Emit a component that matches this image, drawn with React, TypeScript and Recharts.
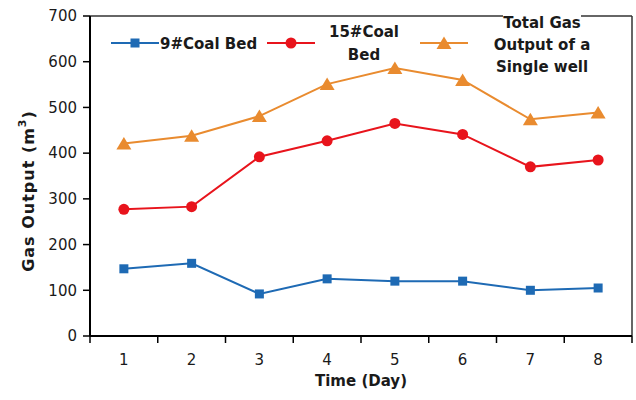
import React from 'react';
import { ComposedChart, Line, XAxis, YAxis, ReferenceLine, Legend } from 'recharts';

const days = [1, 2, 3, 4, 5, 6, 7, 8];
const coalBed9 = [147, 159, 92, 125, 120, 120, 100, 105];
const coalBed15 = [277, 283, 392, 427, 465, 441, 370, 385];
const totalOutput = [421, 438, 481, 551, 586, 560, 474, 489];
const yTicks = [0, 100, 200, 300, 400, 500, 600, 700];
const xTicks = [0.5, 1, 1.5, 2, 2.5, 3, 3.5, 4, 4.5, 5, 5.5, 6, 6.5, 7, 7.5, 8, 8.5];

const data = days.map((d, i) => ({
  day: d,
  c9: coalBed9[i],
  c15: coalBed15[i],
  total: totalOutput[i],
}));

const BLUE = '#1e6ab4';
const RED = '#e8141c';
const ORANGE = '#e98b2f';
const FONT = '"DejaVu Sans", "Liberation Sans", Arial, sans-serif';
const TEXT = '#1a1a1a';

const SquareDot = (props: any) => {
  const { cx, cy } = props;
  if (cx == null || cy == null) return <g />;
  return <rect x={cx - 4.5} y={cy - 4.5} width={9} height={9} fill={BLUE} />;
};
const CircleDot = (props: any) => {
  const { cx, cy } = props;
  if (cx == null || cy == null) return <g />;
  return <circle cx={cx} cy={cy} r={5.5} fill={RED} />;
};
const TriangleDot = (props: any) => {
  const { cx, cy } = props;
  if (cx == null || cy == null) return <g />;
  return <polygon points={`${cx},${cy - 6.5} ${cx + 7.5},${cy + 6} ${cx - 7.5},${cy + 6}`} fill={ORANGE} />;
};

const XTick = (props: any) => {
  const { x, y, payload } = props;
  const v = payload.value;
  if (Number.isInteger(v)) {
    return (
      <text x={x} y={y + 21} textAnchor="middle" fontFamily={FONT} fontSize={15} fill={TEXT}>
        {v}
      </text>
    );
  }
  return <line x1={x} x2={x} y1={y - 8} y2={y - 1} stroke="#000" strokeWidth={1.5} />;
};

const YLabel = (props: any) => {
  const { viewBox } = props;
  const cx = viewBox.x + 28;
  const cy = viewBox.y + viewBox.height / 2 + 15;
  return (
    <text
      x={cx}
      y={cy}
      transform={`rotate(-90, ${cx}, ${cy})`}
      textAnchor="middle"
      dominantBaseline="central"
      fontFamily={FONT}
      fontWeight="bold"
      fontSize={16}
      letterSpacing={1}
      fill={TEXT}
    >
      Gas Output (m<tspan dy={-6} fontSize={11}>3</tspan><tspan dy={6}>)</tspan>
    </text>
  );
};

const LineIcon = ({ color, marker }: { color: string; marker: string }) => (
  <svg width={48} height={20} style={{ display: 'block' }}>
    <line x1={0} x2={48} y1={10} y2={10} stroke={color} strokeWidth={2} />
    {marker === 'square' && <rect x={19.5} y={5.5} width={9} height={9} fill={color} />}
    {marker === 'circle' && <circle cx={24} cy={10} r={5.5} fill={color} />}
    {marker === 'triangle' && <polygon points="24,3.5 31.5,16 16.5,16" fill={color} />}
  </svg>
);

const renderLegend = () => {
  const textStyle: React.CSSProperties = {
    position: 'absolute',
    fontFamily: FONT,
    fontWeight: 'bold',
    fontSize: 15,
    color: TEXT,
    whiteSpace: 'nowrap',
  };
  return (
    <div style={{ position: 'relative', width: 636, height: 90 }}>
      <div style={{ position: 'absolute', left: 111, top: 33 }}>
        <LineIcon color={BLUE} marker="square" />
      </div>
      <div style={{ ...textStyle, left: 160, top: 34, lineHeight: '20px' }}>9#Coal Bed</div>

      <div style={{ position: 'absolute', left: 267, top: 33 }}>
        <LineIcon color={RED} marker="circle" />
      </div>
      <div style={{ ...textStyle, left: 314, width: 100, top: 21, lineHeight: '23px', textAlign: 'center' }}>
        15#Coal
        <br />
        Bed
      </div>

      <div style={{ position: 'absolute', left: 420, top: 33 }}>
        <LineIcon color={ORANGE} marker="triangle" />
      </div>
      <div style={{ ...textStyle, left: 482, width: 120, top: 12, lineHeight: '22px', textAlign: 'center' }}>
        <span style={{ background: '#fff' }}>Total Gas</span>
        <br />
        Output of a
        <br />
        Single well
      </div>
    </div>
  );
};

export default function App() {
  return (
    <div style={{ position: 'absolute', left: 0, top: 0, width: 636, height: 400, background: '#fff' }}>
      <ComposedChart
        width={636}
        height={400}
        data={data}
        margin={{ top: 16, right: 4, bottom: 0, left: 0 }}
      >
        <XAxis
          dataKey="day"
          type="number"
          domain={[0.5, 8.5]}
          ticks={xTicks}
          interval={0}
          tickLine={false}
          tickSize={6}
          tickMargin={2}
          tick={<XTick />}
          height={64}
          axisLine={{ stroke: '#000', strokeWidth: 2 }}
          label={{
            value: 'Time (Day)',
            position: 'insideBottom',
            offset: 14,
            style: { fontFamily: FONT, fontWeight: 'bold', fontSize: 15, fill: TEXT },
          }}
        />
        <YAxis
          type="number"
          domain={[0, 700]}
          ticks={yTicks}
          interval={0}
          width={90}
          tickSize={7}
          tickMargin={6}
          tickLine={{ stroke: '#000', strokeWidth: 1.5 }}
          axisLine={{ stroke: '#000', strokeWidth: 2 }}
          tick={{ fontFamily: FONT, fontSize: 15, fill: TEXT }}
          label={<YLabel />}
        />
        <ReferenceLine y={700} stroke="#333" strokeWidth={1.5} />
        <ReferenceLine x={8.5} stroke="#333" strokeWidth={1.5} />
        <Legend
          layout="vertical"
          align="center"
          verticalAlign="middle"
          wrapperStyle={{ left: 0, top: 0, width: 636, height: 90 }}
          content={renderLegend}
        />
        <Line
          type="linear"
          dataKey="c9"
          name="9#Coal Bed"
          stroke={BLUE}
          strokeWidth={2}
          dot={<SquareDot />}
          activeDot={false}
          isAnimationActive={false}
        />
        <Line
          type="linear"
          dataKey="c15"
          name="15#Coal Bed"
          stroke={RED}
          strokeWidth={2}
          dot={<CircleDot />}
          activeDot={false}
          isAnimationActive={false}
        />
        <Line
          type="linear"
          dataKey="total"
          name="Total Gas Output of a Single well"
          stroke={ORANGE}
          strokeWidth={2}
          dot={<TriangleDot />}
          activeDot={false}
          isAnimationActive={false}
        />
      </ComposedChart>
    </div>
  );
}
